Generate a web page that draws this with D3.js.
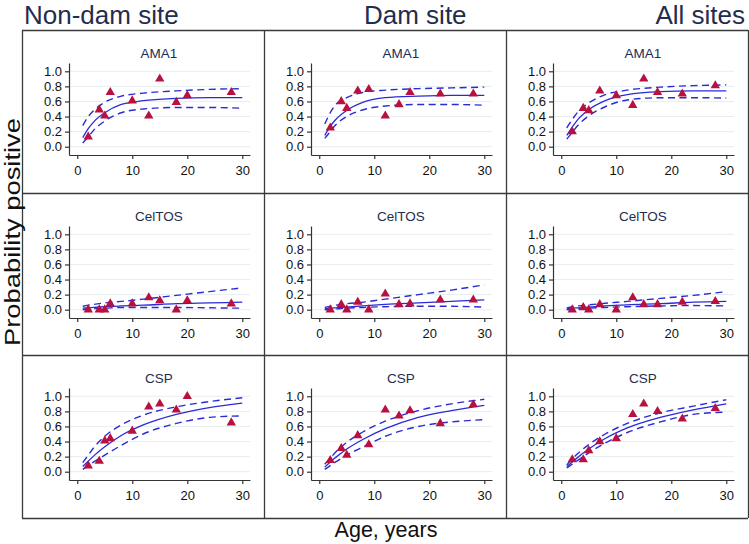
<!DOCTYPE html>
<html>
<head>
<meta charset="utf-8">
<script src="https://cdn.jsdelivr.net/npm/d3@7/dist/d3.min.js"></script>
<style>
  html, body { margin: 0; padding: 0; background: #fff; }
  svg { display: block; font-family: "Liberation Sans", Arial, Helvetica, sans-serif; }
</style>
</head>
<body>
<svg id="chart" width="749" height="544"></svg>
<script>
// ---------- data ----------
const sites = ["Non-dam site", "Dam site", "All sites"];
const antigens = ["AMA1", "CelTOS", "CSP"];
const xTicks = [0, 10, 20, 30];
const yTicks = [0, 0.2, 0.4, 0.6, 0.8, 1.0];

// ages of observed points per site
const agesNonDam = [2, 4, 5, 6, 10, 13, 15, 18, 20, 28];
const agesDam    = [2, 4, 5, 7, 9, 12, 14.5, 16.5, 22, 28];
const agesAll    = [2, 4, 5, 7, 10, 13, 15, 17.5, 22, 28];

// observed proportions positive [nonDam, dam, all]
const obsAMA1 = [
  [0.13, 0.49, 0.41, 0.72, 0.61, 0.41, 0.90, 0.59, 0.68, 0.72],
  [0.25, 0.60, 0.51, 0.74, 0.76, 0.41, 0.56, 0.72, 0.70, 0.70],
  [0.20, 0.51, 0.48, 0.74, 0.68, 0.55, 0.90, 0.72, 0.70, 0.81]
];
const obsCelTOS = [
  [0.00, 0.00, 0.00, 0.08, 0.08, 0.16, 0.12, 0.00, 0.12, 0.08],
  [0.00, 0.07, 0.00, 0.10, 0.00, 0.21, 0.07, 0.08, 0.13, 0.13],
  [0.00, 0.03, 0.00, 0.07, 0.00, 0.16, 0.07, 0.07, 0.10, 0.11]
];
const obsCSP = [
  [0.08, 0.14, 0.41, 0.44, 0.54, 0.86, 0.90, 0.82, 1.00, 0.65],
  [0.15, 0.31, 0.22, 0.48, 0.36, 0.82, 0.74, 0.81, 0.64, 0.89],
  [0.16, 0.16, 0.28, 0.40, 0.44, 0.76, 0.90, 0.80, 0.70, 0.84]
];

// fitted curves and 95% bounds, read at these ages
const curveAges = [1, 2, 3, 5, 8, 12, 18, 24, 30];

const fitAMA1 = [
  [0.12, 0.24, 0.33, 0.45, 0.56, 0.61, 0.64, 0.65, 0.65],
  [0.15, 0.27, 0.36, 0.48, 0.59, 0.65, 0.67, 0.68, 0.68],
  [0.15, 0.26, 0.36, 0.49, 0.61, 0.69, 0.73, 0.74, 0.74]
];
const upAMA1 = [
  [0.28, 0.40, 0.48, 0.59, 0.67, 0.71, 0.74, 0.76, 0.77],
  [0.30, 0.45, 0.56, 0.65, 0.72, 0.75, 0.77, 0.78, 0.79],
  [0.25, 0.36, 0.46, 0.58, 0.69, 0.75, 0.79, 0.81, 0.82]
];
const loAMA1 = [
  [0.05, 0.13, 0.22, 0.34, 0.45, 0.50, 0.52, 0.52, 0.51],
  [0.11, 0.20, 0.29, 0.40, 0.49, 0.54, 0.56, 0.56, 0.55],
  [0.10, 0.19, 0.28, 0.41, 0.53, 0.62, 0.65, 0.65, 0.645]
];

const fitCelTOS = [
  [0.02, 0.025, 0.03, 0.04, 0.05, 0.06, 0.08, 0.09, 0.10],
  [0.01, 0.02, 0.025, 0.035, 0.05, 0.07, 0.09, 0.11, 0.13],
  [0.01, 0.02, 0.025, 0.035, 0.05, 0.065, 0.08, 0.10, 0.11]
];
const upCelTOS = [
  [0.045, 0.06, 0.07, 0.09, 0.11, 0.14, 0.19, 0.24, 0.29],
  [0.03, 0.045, 0.06, 0.08, 0.10, 0.14, 0.20, 0.26, 0.33],
  [0.025, 0.04, 0.05, 0.065, 0.085, 0.11, 0.15, 0.19, 0.24]
];
const loCelTOS = [
  [0.0, 0.01, 0.015, 0.02, 0.03, 0.03, 0.03, 0.025, 0.02],
  [0.0, 0.005, 0.01, 0.02, 0.03, 0.04, 0.045, 0.045, 0.035],
  [0.0, 0.005, 0.01, 0.02, 0.03, 0.04, 0.05, 0.055, 0.05]
];

const fitCSP = [
  [0.07, 0.14, 0.21, 0.33, 0.48, 0.62, 0.76, 0.85, 0.91],
  [0.06, 0.13, 0.19, 0.30, 0.43, 0.57, 0.72, 0.81, 0.88],
  [0.07, 0.13, 0.19, 0.30, 0.44, 0.58, 0.72, 0.82, 0.90]
];
const upCSP = [
  [0.12, 0.22, 0.32, 0.47, 0.62, 0.75, 0.86, 0.93, 0.98],
  [0.10, 0.18, 0.26, 0.39, 0.53, 0.67, 0.81, 0.90, 0.96],
  [0.09, 0.17, 0.24, 0.36, 0.50, 0.64, 0.78, 0.87, 0.955]
];
const loCSP = [
  [0.03, 0.08, 0.13, 0.22, 0.35, 0.50, 0.64, 0.72, 0.74],
  [0.03, 0.08, 0.13, 0.22, 0.33, 0.47, 0.60, 0.66, 0.69],
  [0.05, 0.10, 0.15, 0.25, 0.38, 0.52, 0.66, 0.76, 0.79]
];

// ---------- assembly ----------
const ages = [agesNonDam, agesDam, agesAll];
const obs = [obsAMA1, obsCelTOS, obsCSP];
const fits = [fitAMA1, fitCelTOS, fitCSP];
const ups = [upAMA1, upCelTOS, upCSP];
const los = [loAMA1, loCelTOS, loCSP];

// ---------- layout ----------
const svg = d3.select("#chart");
const colX = [22, 264, 506, 748];
const rowY = [30, 193, 355, 518];
const lineColor = "#2b2bd6";
const markColor = "#b8103f";
const titleColor = "#1f2d4e";

// cell borders
const borderG = svg.append("g").attr("stroke", "#3a3a3a").attr("stroke-width", 1.3).attr("fill", "none");
colX.forEach(x => borderG.append("line").attr("x1", x + 0.5).attr("x2", x + 0.5).attr("y1", rowY[0]).attr("y2", rowY[3]));
rowY.forEach(y => borderG.append("line").attr("x1", colX[0]).attr("x2", colX[3]).attr("y1", y + 0.5).attr("y2", y + 0.5));

// column titles
svg.append("text").attr("x", 24).attr("y", 24).attr("font-size", 26).attr("fill", titleColor).text(sites[0]);
svg.append("text").attr("x", 364).attr("y", 24).attr("font-size", 26).attr("fill", titleColor).text(sites[1]);
svg.append("text").attr("x", 745).attr("y", 24).attr("font-size", 26).attr("fill", titleColor).attr("text-anchor", "end").text(sites[2]);

// axis titles
svg.append("text").attr("transform", "translate(20,232) rotate(-90)").attr("text-anchor", "middle")
  .attr("font-size", 22).attr("textLength", 228).attr("lengthAdjust", "spacingAndGlyphs")
  .attr("fill", "#111").text("Probability positive");
svg.append("text").attr("x", 386).attr("y", 537).attr("text-anchor", "middle")
  .attr("font-size", 21.5).attr("fill", "#111").text("Age, years");

const tri = d3.symbol().type(d3.symbolTriangle).size(38);

antigens.forEach((ag, r) => {
  sites.forEach((site, c) => {
    const left = colX[c], top = rowY[r];
    const x = d3.scaleLinear().domain([-1.5, 31.4]).range([left + 47, left + 228]);
    const y = d3.scaleLinear().domain([-0.11, 1.11]).range([top + 125, top + 33]);
    const g = svg.append("g");

    // gridlines
    g.selectAll("line.grid").data(yTicks).join("line")
      .attr("x1", x.range()[0]).attr("x2", x.range()[1])
      .attr("y1", d => y(d)).attr("y2", d => y(d))
      .attr("stroke", "#e6eef0").attr("stroke-width", 1);

    // axes
    const ya = g.append("g").attr("transform", `translate(${x.range()[0]},0)`)
      .call(d3.axisLeft(y).tickValues(yTicks).tickFormat(d3.format(".1f")).tickSize(4).tickSizeOuter(0).tickPadding(3));
    const xa = g.append("g").attr("transform", `translate(0,${y.range()[0]})`)
      .call(d3.axisBottom(x).tickValues(xTicks).tickSize(4).tickSizeOuter(0).tickPadding(7));
    [ya, xa].forEach(a => {
      a.select(".domain").attr("stroke", "#333").attr("stroke-width", 1.2);
      a.selectAll(".tick line").attr("stroke", "#333").attr("stroke-width", 1.2);
      a.selectAll(".tick text").attr("font-size", 13).attr("fill", "#111")
        .attr("font-family", "'Liberation Sans', Arial, sans-serif");
    });

    // panel title
    g.append("text").attr("x", left + 137).attr("y", top + 27.5).attr("text-anchor", "middle")
      .attr("font-size", 13.5).attr("fill", titleColor).text(ag);

    // curves
    const line = d3.line().x((d, i) => x(curveAges[i])).y(d => y(d)).curve(d3.curveMonotoneX);
    g.append("path").attr("d", line(ups[r][c])).attr("fill", "none").attr("stroke", lineColor)
      .attr("stroke-width", 1.4).attr("stroke-dasharray", "7,4.5");
    g.append("path").attr("d", line(los[r][c])).attr("fill", "none").attr("stroke", lineColor)
      .attr("stroke-width", 1.4).attr("stroke-dasharray", "7,4.5");
    g.append("path").attr("d", line(fits[r][c])).attr("fill", "none").attr("stroke", lineColor)
      .attr("stroke-width", 1.3);

    // observed points
    g.selectAll("path.pt").data(obs[r][c]).join("path")
      .attr("class", "pt")
      .attr("transform", (d, i) => `translate(${x(ages[c][i])},${y(d)})`)
      .attr("d", tri).attr("fill", markColor);
  });
});
</script>
</body>
</html>
